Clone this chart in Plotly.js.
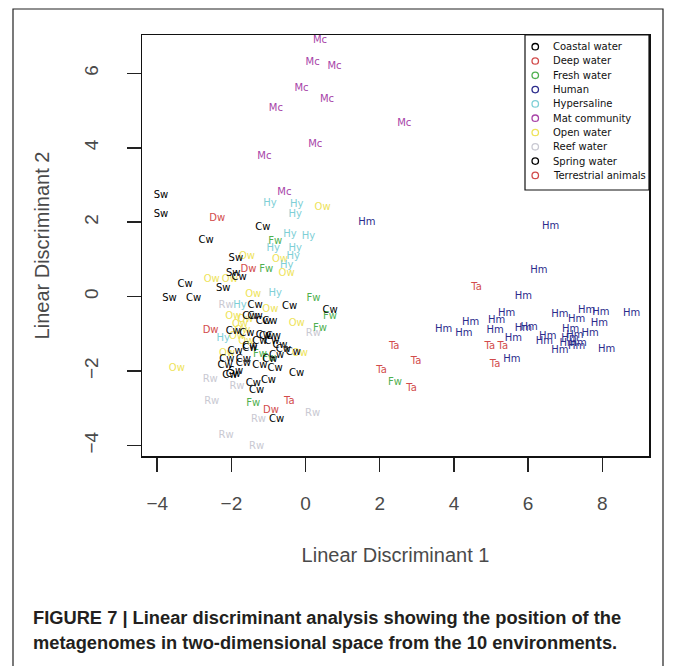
<!DOCTYPE html>
<html><head><meta charset="utf-8">
<script src="https://cdn.plot.ly/plotly-3.0.1.min.js"></script>
<style>html,body{margin:0;padding:0;background:#fff}#chart{width:673px;height:666px}</style>
</head><body><div id="chart"></div>
<script>
// ---- data ----
const categories = ['Coastal water','Deep water','Fresh water','Human','Hypersaline','Mat community','Open water','Reef water','Spring water','Terrestrial animals'];
const codes = ['Cw','Dw','Fw','Hm','Hy','Mc','Ow','Rw','Sw','Ta'];
const colors = ['#000000','#d24b4b','#4fb04f','#2c2c8c','#7ecfd6','#a844a8','#eee35a','#c9c9d2','#000000','#d24b4b'];
const xTicks = [-4,-2,0,2,4,6,8];
const yTicks = [-4,-2,0,2,4,6];

const cwX = [-1.15,-2.68,-3.25,-3.02,-1.79,-0.43,0.66,-1.36,-0.78,-1.50,-1.14,-0.96,-1.95,-1.58,-1.14,-0.87,-1.23,-0.91,-0.69,-1.50,-0.60,-1.90,-0.33,-0.78,-2.12,-1.68,-0.96,-2.17,-1.68,-1.23,-0.82,-0.24,-1.95,-1.00,-1.41,-1.32,-2.04,-1.36,-1.05,-1.50];
const cwY = [1.85,1.50,0.34,-0.04,0.52,-0.27,-0.36,-0.25,-3.31,-0.54,-0.67,-0.67,-0.94,-0.98,-1.03,-1.08,-1.21,-1.21,-1.30,-1.39,-1.43,-1.48,-1.50,-1.57,-1.70,-1.70,-1.70,-1.84,-1.79,-1.84,-1.92,-2.06,-2.10,-2.26,-2.33,-2.51,-2.13,-0.54,-1.08,-1.34];
const dwX = [-2.38,-1.54,-2.56,-0.93];
const dwY = [2.11,0.74,-0.91,-3.05];
const fwX = [-0.82,-1.06,0.21,0.66,0.39,-1.41,-1.23,-0.98,2.41];
const fwY = [1.48,0.74,-0.04,-0.54,-0.85,-2.87,-1.55,-1.65,-2.31];
const hmX = [1.65,6.61,6.29,5.87,5.42,4.45,5.15,3.72,4.27,5.11,5.87,6.03,5.60,6.53,6.44,5.56,6.86,7.31,7.58,7.96,7.92,8.79,7.15,7.67,6.86,7.31,8.12,7.13,7.26,7.35,7.08];
const hmY = [1.99,1.88,0.70,0.00,-0.45,-0.69,-0.63,-0.87,-1.00,-0.91,-0.85,-0.83,-1.12,-1.08,-1.21,-1.68,-0.47,-0.61,-0.36,-0.42,-0.73,-0.45,-0.88,-0.98,-1.45,-1.34,-1.41,-1.12,-1.03,-1.25,-1.25];
const hyX = [-0.96,-0.24,-0.28,-0.42,0.08,-0.87,-0.28,-0.33,-0.51,-1.77,-2.22,-0.82];
const hyY = [2.51,2.49,2.21,1.66,1.63,1.30,1.30,1.08,0.85,-0.25,-1.12,0.09];
const mcX = [0.39,0.19,0.78,-0.11,0.58,-0.80,2.66,0.26,-1.11,-0.57];
const mcY = [6.87,6.30,6.18,5.60,5.29,5.06,4.65,4.10,3.76,2.80];
const owX = [0.46,-1.58,-0.69,-0.51,-2.53,-2.04,-1.41,-0.24,-1.77,-3.47,-0.15,-2.12,-1.85,-1.62,-1.95,-1.70,-1.60,-0.95];
const owY = [2.39,1.08,0.99,0.63,0.45,0.45,0.05,-0.72,-0.76,-1.92,-1.52,-1.52,-1.08,-0.62,-0.54,-0.90,-1.20,-0.35];
const rwX = [-2.14,0.21,-2.57,-1.85,-2.53,0.19,-1.27,-2.14,-1.32];
const rwY = [-0.25,-1.00,-2.22,-2.40,-2.82,-3.13,-3.30,-3.72,-4.03];
const swX = [-3.90,-3.90,-1.88,-1.95,-2.22,-3.67,-1.88];
const swY = [2.71,2.20,1.03,0.63,0.23,-0.04,-2.00];
const taX = [-0.44,4.61,2.39,2.98,2.05,2.86,4.97,5.32,5.11];
const taY = [-2.82,0.25,-1.34,-1.73,-1.99,-2.46,-1.34,-1.34,-1.82];

const seriesX = {Cw:cwX,Dw:dwX,Fw:fwX,Hm:hmX,Hy:hyX,Mc:mcX,Ow:owX,Rw:rwX,Sw:swX,Ta:taX};
const seriesY = {Cw:cwY,Dw:dwY,Fw:fwY,Hm:hmY,Hy:hyY,Mc:mcY,Ow:owY,Rw:rwY,Sw:swY,Ta:taY};
const drawOrder = ['Rw','Ow','Hy','Fw','Dw','Ta','Mc','Hm','Sw','Cw'];

// ---- traces ----
const traces = drawOrder.map(code => {
  const i = codes.indexOf(code);
  return {
    type:'scatter', mode:'text', name:categories[i], showlegend:false,
    x:seriesX[code], y:seriesY[code],
    text:seriesX[code].map(()=>code),
    textposition:'middle center',
    textfont:{family:'DejaVu Sans, Verdana, sans-serif', size:10, color:colors[i]},
    hoverinfo:'x+y+name'
  };
});

// ---- geometry helpers (plot area in px) ----
const L=142, R=649, T=35, B=456;
const px2x = p => (p-L)/(R-L);
const px2y = p => (B-p)/(B-T);

const shapes = [];
const annotations = [];
// figure frame
shapes.push({type:'rect', xref:'paper', yref:'paper', x0:px2x(13), x1:px2x(663), y0:px2y(680), y1:px2y(9), line:{color:'#222', width:1.2}, fillcolor:'rgba(0,0,0,0)', layer:'below'});
// legend box
shapes.push({type:'rect', xref:'paper', yref:'paper', x0:px2x(525), x1:1, y0:px2y(190), y1:1, line:{color:'#111', width:1.2}, fillcolor:'#ffffff'});
categories.forEach((c,i)=>{
  const py = 46.7 + i*14.3;
  shapes.push({type:'circle', xref:'paper', yref:'paper', x0:px2x(532), x1:px2x(538.5), y0:px2y(py+3.2), y1:px2y(py-3.2), line:{color:colors[i], width:1.3}});
  annotations.push({xref:'paper', yref:'paper', x:px2x(551), y:px2y(py), xanchor:'left', yanchor:'middle', showarrow:false, text:c, font:{family:'DejaVu Sans, Verdana, sans-serif', size:10, color:'#111'}});
});
// caption
const capFont = {family:'Liberation Sans Narrow, Arial Narrow, Liberation Sans, sans-serif', size:18.3, color:'#231f20'};
annotations.push({xref:'paper', yref:'paper', x:px2x(31), y:px2y(617), xanchor:'left', yanchor:'middle', showarrow:false, text:'<b>FIGURE 7 | Linear discriminant analysis showing the position of the</b>', font:capFont});
annotations.push({xref:'paper', yref:'paper', x:px2x(31), y:px2y(642), xanchor:'left', yanchor:'middle', showarrow:false, text:'<b>metagenomes in two-dimensional space from the 10 environments.</b>', font:capFont});

const tickFont = {family:'Liberation Sans, Arial, sans-serif', size:19, color:'#4a4a4a'};
const layout = {
  width:673, height:666,
  margin:{l:L, r:673-R, t:T, b:666-B, pad:0},
  paper_bgcolor:'#ffffff', plot_bgcolor:'#ffffff',
  showlegend:false,
  xaxis:{range:[-4.41,9.26], tickvals:xTicks, ticks:'outside', ticklen:14, tickwidth:1.5, tickcolor:'#222',
         showline:true, mirror:true, linecolor:'#111', linewidth:1.5, showgrid:false, zeroline:false,
         tickfont:tickFont, ticklabelstandoff:16,
         title:{text:'Linear Discriminant 1', font:{family:'Liberation Sans, Arial, sans-serif', size:20, color:'#4a4a4a'}, standoff:34}},
  yaxis:{range:[-4.28,7.03], tickvals:yTicks, ticks:'outside', ticklen:14, tickwidth:1.5, tickcolor:'#222',
         showline:true, mirror:true, linecolor:'#111', linewidth:1.5, showgrid:false, zeroline:false,
         tickfont:tickFont, tickangle:-90, ticklabelstandoff:21,
         title:{text:'Linear Discriminant 2', font:{family:'Liberation Sans, Arial, sans-serif', size:20, color:'#4a4a4a'}, standoff:26}},
  shapes:shapes, annotations:annotations
};
Plotly.newPlot('chart', traces, layout, {displayModeBar:false, staticPlot:true});
</script>
</body></html>
